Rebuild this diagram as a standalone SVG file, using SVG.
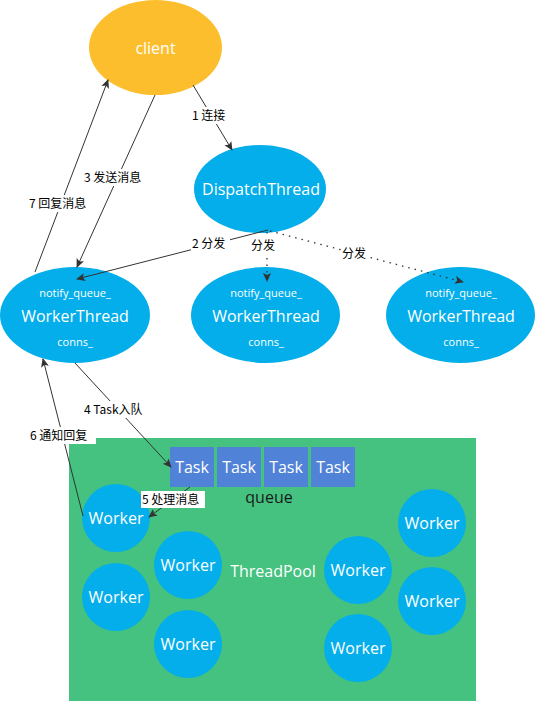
<svg xmlns="http://www.w3.org/2000/svg" width="535" height="701" viewBox="0 0 535 701">
<defs>
<marker id="ah" markerWidth="10" markerHeight="10" refX="8" refY="5" orient="auto" markerUnits="userSpaceOnUse">
<path d="M0,1 L9,5 L0,9 L2,5 Z" fill="#333"/>
</marker>
<style>
text{font-family:"Segoe UI","Open Sans","Noto Sans","Noto Sans CJK SC",sans-serif;}
.blue{fill:#03AEEA;}
.wt{fill:#fff;text-anchor:middle;}
.big{font-size:16px;}
.sm{font-size:11px;}
.lbl{font-size:12px;fill:#000;font-family:"Noto Sans CJK SC","Noto Sans",sans-serif;}
.ln{stroke:#333;stroke-width:1;fill:none;marker-end:url(#ah);}
.dot{stroke:#333;stroke-width:1.3;stroke-dasharray:1.5 5;fill:none;marker-end:url(#ah);}
.task{fill:#5082D8;}
.lbg{fill:#fff;}
</style>
</defs>
<rect width="535" height="701" fill="#fff"/>
<g id="pool">
<rect x="69" y="438" width="407" height="263" fill="#45C280"/>
<text x="273" y="577" class="wt" style="font-size:16px">ThreadPool</text>
<text x="269" y="503" style="font-size:16px;fill:#1a1a1a;text-anchor:middle">queue</text>
</g>
<g id="client">
<ellipse cx="155.5" cy="47.5" rx="66.5" ry="47.5" fill="#FDBE2D"/>
<text x="155.5" y="54" class="wt big">client</text>
</g>
<g id="dispatch">
<ellipse cx="260" cy="189" rx="66" ry="44" class="blue"/>
<text x="261" y="195" class="wt big">DispatchThread</text>
</g>
<g id="worker-thread-1">
<ellipse cx="75" cy="315" rx="75" ry="48" class="blue"/>
<text x="75" y="297" class="wt sm">notify_queue_</text>
<text x="75" y="322" class="wt big">WorkerThread</text>
<text x="75" y="346" class="wt sm">conns_</text>
</g>
<g id="worker-thread-2">
<ellipse cx="265.5" cy="315" rx="74.5" ry="48" class="blue"/>
<text x="266" y="297" class="wt sm">notify_queue_</text>
<text x="266" y="322" class="wt big">WorkerThread</text>
<text x="266" y="346" class="wt sm">conns_</text>
</g>
<g id="worker-thread-3">
<ellipse cx="460.5" cy="315" rx="74.5" ry="48" class="blue"/>
<text x="461" y="297" class="wt sm">notify_queue_</text>
<text x="461" y="322" class="wt big">WorkerThread</text>
<text x="461" y="346" class="wt sm">conns_</text>
</g>
<g id="tasks">
<rect x="170" y="447" width="44" height="40" class="task"/>
<rect x="217" y="447" width="44" height="40" class="task"/>
<rect x="264" y="447" width="44" height="40" class="task"/>
<rect x="311" y="447" width="44" height="40" class="task"/>
<text x="192" y="473" class="wt big">Task</text>
<text x="239" y="473" class="wt big">Task</text>
<text x="286" y="473" class="wt big">Task</text>
<text x="333" y="473" class="wt big">Task</text>
</g>
<g id="worker-1"><circle cx="116" cy="518" r="34" class="blue"/><text x="116" y="524" class="wt big">Worker</text></g>
<g id="worker-2"><circle cx="116" cy="597" r="34" class="blue"/><text x="116" y="603" class="wt big">Worker</text></g>
<g id="worker-3"><circle cx="188" cy="565" r="34" class="blue"/><text x="188" y="571" class="wt big">Worker</text></g>
<g id="worker-4"><circle cx="188" cy="644" r="34" class="blue"/><text x="188" y="650" class="wt big">Worker</text></g>
<g id="worker-5"><circle cx="358" cy="570" r="34" class="blue"/><text x="358" y="576" class="wt big">Worker</text></g>
<g id="worker-6"><circle cx="358" cy="648" r="34" class="blue"/><text x="358" y="654" class="wt big">Worker</text></g>
<g id="worker-7"><circle cx="432" cy="523" r="34" class="blue"/><text x="432" y="529" class="wt big">Worker</text></g>
<g id="worker-8"><circle cx="432" cy="601" r="34" class="blue"/><text x="432" y="607" class="wt big">Worker</text></g>
<g id="connectors">
<path d="M193,85 L232,150" class="ln"/>
<path d="M155,95 L77,267" class="ln"/>
<path d="M35,272 L108,80" class="ln"/>
<path d="M268,230 L77,279" class="ln"/>
<path d="M267,232 L267,281" class="dot"/>
<path d="M270,231 L463,282" class="dot"/>
<path d="M75,363 L171,467" class="ln"/>
<path d="M83,516 L43,359" class="ln"/>
<path d="M190,487 L149,517" class="ln"/>
<rect x="191" y="107" width="39" height="17" class="lbg"/>
<text x="192" y="120" class="lbl">1 连接</text>
<rect x="83" y="169" width="67" height="17" class="lbg"/>
<text x="84" y="182" class="lbl">3 发送消息</text>
<rect x="28" y="195" width="67" height="17" class="lbg"/>
<text x="29" y="208" class="lbl">7 回复消息</text>
<rect x="191" y="235" width="39" height="17" class="lbg"/>
<text x="192" y="248" class="lbl">2 分发</text>
<rect x="250" y="237" width="27" height="17" class="lbg"/>
<text x="251" y="250" class="lbl">分发</text>
<rect x="341" y="245" width="27" height="17" class="lbg"/>
<text x="342" y="258" class="lbl">分发</text>
<rect x="83" y="401" width="67" height="17" class="lbg"/>
<text x="84" y="414" class="lbl">4 Task入队</text>
<rect x="29" y="427" width="67" height="17" class="lbg"/>
<text x="30" y="440" class="lbl">6 通知回复</text>
<rect x="141" y="491" width="64" height="17" class="lbg"/>
<text x="142" y="504" class="lbl">5 处理消息</text>
</g>
</svg>
